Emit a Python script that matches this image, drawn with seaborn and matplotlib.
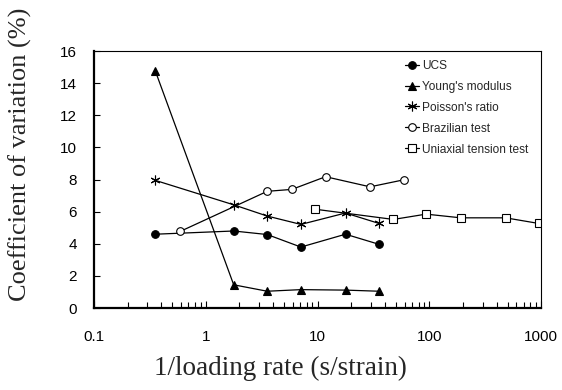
import numpy as np
import pandas as pd
import seaborn as sns
import matplotlib.pyplot as plt
from matplotlib.ticker import LogLocator, FixedLocator, NullFormatter

# values (x = 1/loading rate, y = CoV %)
x_mech = [0.355, 1.78, 3.55, 7.1, 17.8, 35.5]
ucs = [4.6, 4.8, 4.58, 3.8, 4.6, 3.97]
youngs = [14.75, 1.45, 1.05, 1.15, 1.12, 1.05]
poisson = [7.95, 6.43, 5.73, 5.21, 5.92, 5.27]

x_braz = [0.59, 3.55, 5.9, 11.8, 29.5, 59.4]
brazilian = [4.77, 7.27, 7.39, 8.18, 7.55, 7.99]

x_tens = [9.4, 47.7, 93.5, 191, 480, 950]
tension = [6.16, 5.52, 5.85, 5.62, 5.62, 5.27]

sns.set_theme(style="ticks")
plt.rcParams['font.family'] = ['Liberation Sans', 'DejaVu Sans']

fig, ax = plt.subplots(figsize=(5.62, 3.9), dpi=100)
fig.subplots_adjust(left=0.167, right=0.963, top=0.869, bottom=0.21)

star = (6, 2, 0)
series = [
    ("UCS", x_mech, ucs, "o", "black"),
    ("Young's modulus", x_mech, youngs, "^", "black"),
    ("Poisson's ratio", x_mech, poisson, star, "black"),
    ("Brazilian test", x_braz, brazilian, "o", "white"),
    ("Uniaxial tension test", x_tens, tension, "s", "white"),
]
for name, xs, ys, mk, fc in series:
    sns.lineplot(x=xs, y=ys, ax=ax, color="black", lw=0.9, marker=mk,
                 markersize=5.5 if mk != star else 7, markerfacecolor=fc,
                 markeredgecolor="black", markeredgewidth=0.8, label=name)

ax.set_xscale("log")
ax.set_xlim(0.1, 1000)
ax.set_ylim(0, 16)
ax.set_yticks(np.arange(0, 17, 2))
ax.xaxis.set_major_locator(FixedLocator([0.1, 1, 10, 100, 1000]))
ax.xaxis.set_major_formatter(plt.FuncFormatter(lambda v, p: f"{v:g}"))
ax.xaxis.set_minor_locator(LogLocator(base=10, subs=np.arange(2, 10)))
ax.xaxis.set_minor_formatter(NullFormatter())
ax.tick_params(axis="both", which="both", direction="in", labelsize=11,
               colors="black", width=0.8)
ax.tick_params(axis="x", which="major", length=5, pad=16)
ax.tick_params(axis="x", which="minor", length=4)
ax.tick_params(axis="y", which="major", length=4, pad=12)

for side in ["left", "bottom"]:
    ax.spines[side].set_linewidth(1.6)
for side in ["top", "right"]:
    ax.spines[side].set_linewidth(0.8)
    ax.spines[side].set_visible(True)
for s in ax.spines.values():
    s.set_color("black")

ax.set_xlabel("1/loading rate (s/strain)", family="Liberation Serif", fontsize=19.5)
ax.set_ylabel("Coefficient of variation (%)", family="Liberation Serif", fontsize=19)
ax.xaxis.set_label_coords(0.416, -0.185)
ax.yaxis.set_label_coords(-0.138, 0.6)

leg = ax.legend(loc="upper left", bbox_to_anchor=(0.685, 0.985), frameon=False, fontsize=8.6,
                handlelength=1.2, handletextpad=0.2, labelspacing=0.75, borderaxespad=0)

fig.savefig("out.png", dpi=100)
